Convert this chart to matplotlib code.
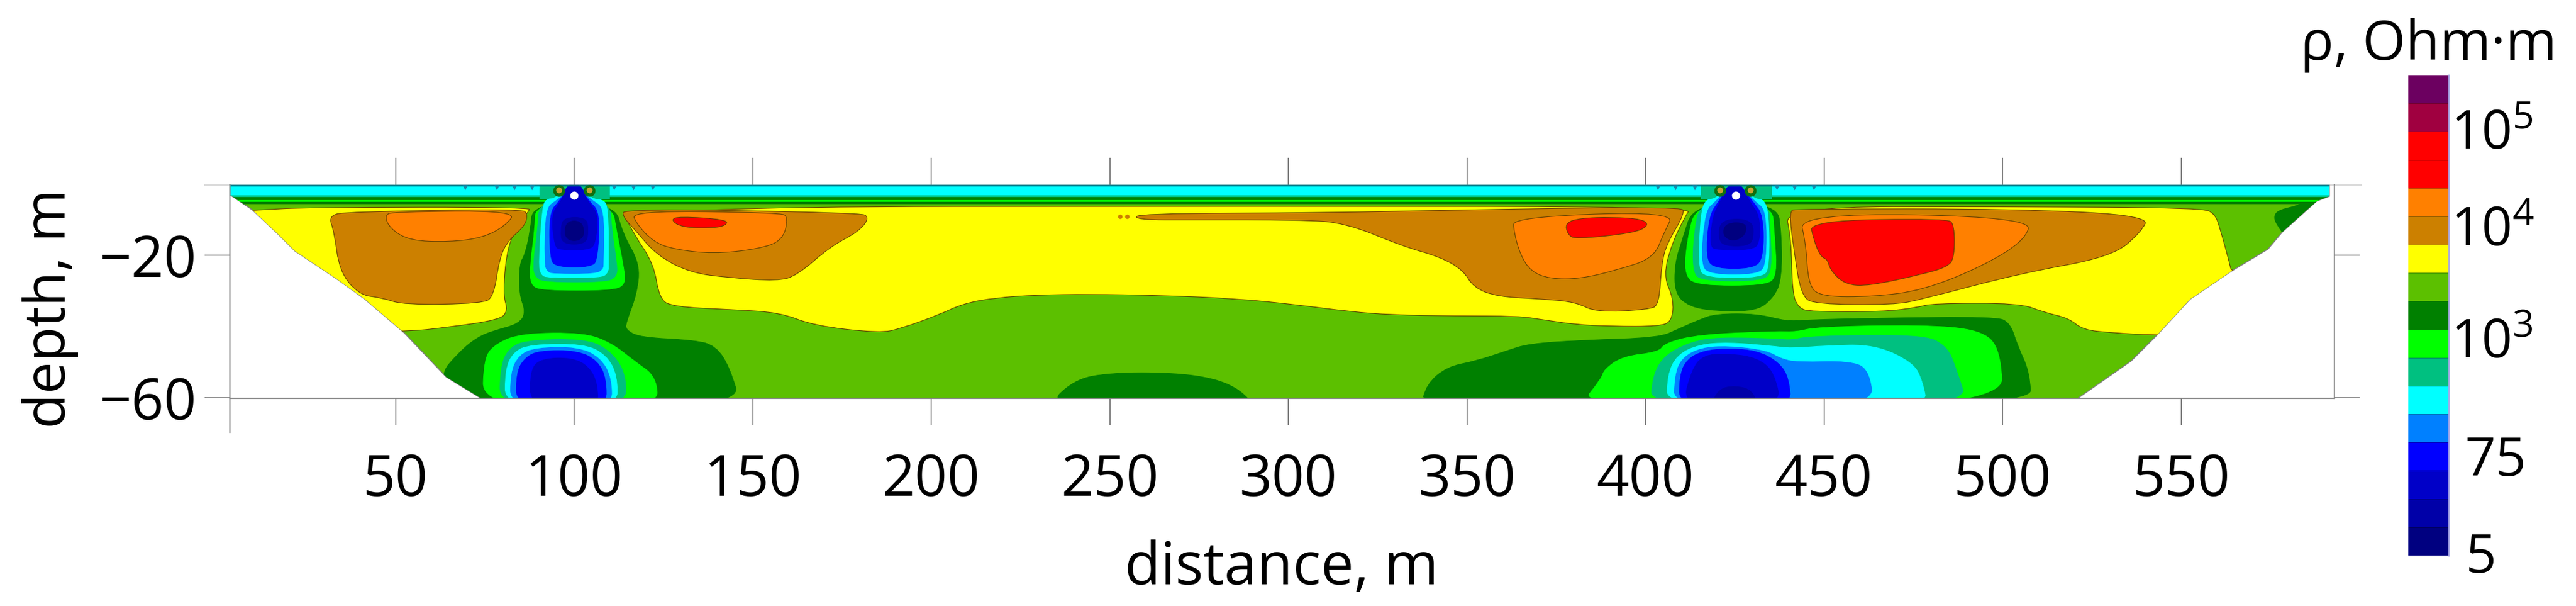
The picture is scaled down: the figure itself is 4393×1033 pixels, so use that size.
import numpy as np
import matplotlib
matplotlib.use("Agg")
import matplotlib.pyplot as plt
from matplotlib.colors import ListedColormap
from matplotlib.patches import PathPatch, Polygon
from matplotlib.path import Path

plt.rcParams['font.family'] = ['Open Sans', 'DejaVu Sans']
plt.rcParams['mathtext.fontset'] = 'custom'
plt.rcParams['mathtext.rm'] = 'Open Sans'

# colour scale, bottom to top of the bar
LEVEL_COLORS = ['#000080', '#0000a8', '#0000c8', '#0000ff', '#0080ff', '#00ffff',
                '#00c080', '#00ff00', '#008000', '#5cc000', '#ffff00', '#cc8000',
                '#ff8000', '#ff0000', '#ff0000', '#a00040', '#6c0060']
CBAR_TICKS = [-0.1, 3.32, 7.49, 11.45, 14.88]
CBAR_LABELS = ['5', '75', r'$\mathregular{10^{3}}$', r'$\mathregular{10^{4}}$', r'$\mathregular{10^{5}}$']
X_TICKS = [50, 100, 150, 200, 250, 300, 350, 400, 450, 500, 550]
Y_TICKS = [-20, -60]
Y_LABELS = ['\u221220', '\u221260']

# section outline (distance, depth)
domain = [(3.8, -0.4), (591.5, -0.4), (591.5, -3.6), (588, -4.9), (578.4, -13.5), (574.3, -18.4),
          (564, -24.6), (552.5, -32.4), (543, -42.7), (536, -49.7), (521, -60.2), (74, -60.2),
          (64.2, -54.2), (52.4, -41.8), (41.4, -32.4), (33.5, -26.7), (21.8, -18.9), (16.9, -14),
          (9.9, -7.4), (3.8, -3.3)]

# yellow
yellow_left = [(0, -42), (0, -8), (12.6, -7.4), (25, -6.7), (88, -6.6), (87, -8), (81.5, -16), (80, -30.8),
               (81.5, -35.7), (79, -38.2), (65, -40.2), (52.4, -41.6)]
yellow_center = [(112.9, -6.5), (116.8, -14.3), (122.3, -22.5), (123.9, -32.4), (127.8, -34.5), (143.5, -35.3),
                 (157.7, -36.1), (167, -39.8), (185.6, -41.9), (191.5, -40.6), (201.8, -36.9), (209, -33.6),
                 (217.9, -32), (229.6, -31.2), (244.2, -31), (263.2, -31.3), (285.2, -32.2), (302.8, -34),
                 (317.4, -35.9), (329, -36.8), (346.7, -37.1), (364.3, -37.1), (371.6, -38.2), (380.4, -39.5),
                 (390.6, -40), (403.8, -40), (407.4, -38.6), (407.9, -32.4), (405, -25.8), (407.4, -16.8),
                 (411, -9.4), (412.9, -6.5), (300, -6.4)]
yellow_right = [(438.8, -6.5), (440.8, -15.2), (441.1, -30.8), (442.9, -34.9), (446.3, -35.9), (466.7, -35.9),
                (476.2, -34.7), (480.2, -33.6), (504.8, -33.5), (511.6, -36.1), (518.5, -37.7), (522.5, -41),
                (530.7, -41.8), (542.3, -42.5), (560, -42.5), (568, -24.6), (564, -24.6), (563.6, -22.5),
                (560.9, -12.7), (559.5, -8.6), (556, -6.8), (500, -6.5)]

# dark green
dark_col1 = [(88.5, -5.5), (87.7, -13.5), (86.2, -20), (84.7, -22.5), (84.6, -31), (86.5, -36), (84.6, -39.3),
             (77.6, -41.2), (73, -43), (68, -47), (62, -54), (68, -63), (147, -63), (143.5, -51.3),
             (139.6, -45.5), (134, -43.9), (118.4, -43.1), (114.5, -41), (114.5, -39), (117.6, -30.8),
             (118.4, -22.5), (113.7, -14.3), (111.3, -5.5)]
dark_col2 = [(413.6, -5.5), (410.2, -16), (408.2, -22.5), (408.2, -30.8), (412.3, -34.5), (419.7, -35.7),
             (431.3, -35.7), (436.1, -31.6), (438.1, -26.7), (438.1, -14.3), (436.8, -5.5)]
dark_lower2 = [(337, -63), (338.7, -56.2), (344.5, -51.3), (352.6, -49.7), (361.3, -46.8), (367.2, -44.9),
               (381.8, -43.9), (403.8, -43.2), (409.5, -40.6), (415, -38.2), (419.7, -36.5), (431.3, -36.5),
               (439.5, -38.6), (444.9, -38.2), (464, -37.7), (498, -37.3), (502.1, -39), (504.2, -45.5),
               (507.6, -52.9), (508, -63)]
dark_blob = [(232, -63), (239.8, -55), (250.1, -53), (267.6, -53), (279.4, -54.6), (286.7, -57.9), (291, -63)]
dark_corner = [(576, -8.9), (577.5, -7.4), (583, -6.1), (584, -5), (592, -5), (580, -16), (576.4, -11)]

# brown, orange, red
brown_left = [(31.2, -9), (36.7, -7.9), (85.4, -7.1), (87, -8.6), (86.2, -11.9), (81.5, -16), (79.1, -20.9),
              (77.5, -31.6), (74.4, -33.6), (52.4, -34), (46.1, -32), (39.8, -31.2), (34.3, -24.6), (32.8, -13.5)]
orange_left = [(46.9, -9), (49.3, -7.9), (84, -7.6), (80.7, -11.9), (74.4, -15.2), (65, -16.4), (54, -16), (48.5, -12.7)]
brown_r1 = [(113.7, -7), (179.7, -8.2), (182.8, -9.4), (179.7, -13.5), (171.8, -17.6), (162.4, -25.8), (156.9, -27.3),
            (143.5, -26.4), (132.5, -25), (123.1, -20.1), (116.8, -12.7), (113.7, -9.4)]
orange_r1 = [(116, -7.6), (157.7, -8.2), (160, -9.4), (158.4, -16), (151.4, -18.4), (138.8, -19.7), (127.8, -18.4),
             (122.3, -16.4), (117.6, -11.5)]
red_r1 = [(127, -10.2), (129.4, -9.2), (142.7, -10.1), (142.7, -11.7), (138.8, -12.5), (130.2, -12.3)]
brown_mid = [(257.4, -8.4), (310.1, -8.2), (346.7, -7.4), (409.7, -6.5), (411.1, -8.2), (406, -16.8), (404.5, -22.5),
             (403.8, -34), (400.9, -35.3), (386.2, -36.1), (380.4, -33.2), (371.6, -32.4), (358.4, -31.7),
             (351.8, -29.1), (348.9, -24.2), (342.3, -20.5), (332, -17.6), (316, -11), (302.8, -10.2),
             (273.5, -10.2), (257.4, -10.2)]
orange_mid = [(363.1, -9.4), (408.2, -7.8), (405.3, -13.5), (402.3, -20.9), (392.1, -24.2), (381.8, -26.7),
              (373.1, -26.7), (367.9, -24.6), (365, -20.1), (363.1, -13.5)]
red_mid = [(377.5, -11), (381.8, -9.7), (390.6, -9.4), (399.4, -10), (400.9, -11.9), (396.5, -13.9), (380.4, -15.6),
           (378.2, -14.3)]
brown_r2 = [(440.2, -7.8), (442.2, -7.1), (504.8, -7.1), (540.9, -9), (538.9, -13.5), (530.7, -20.5), (504.8, -25.2),
            (477.6, -32.4), (469.4, -34), (447.7, -33.8), (443.6, -31.6), (441.5, -18.4)]
orange_r2 = [(442.9, -8.2), (508.2, -9.4), (506.2, -16), (493.9, -23.4), (477.6, -29.9), (463.9, -31.7), (449, -31.7),
             (445.6, -28.3), (444.9, -16.8)]
red_r2 = [(446, -10.4), (484.4, -9.8), (486.5, -11.5), (486.5, -20.9), (484.4, -23.4), (477.6, -25.4), (462.6, -28.7),
          (455.8, -28.3), (451.7, -24.2), (451, -21.3), (449, -20.5), (447, -15.6)]

# upper conductor at 100 m
up1_lime = [(89.2, -5.5), (89, -13), (87.7, -22.5), (87.7, -28.3), (90.9, -29.9), (110.5, -29.9), (114.5, -28.3),
            (113.7, -22.5), (112, -14), (110.5, -5.5)]
up1_teal = [(90.3, -4.4), (89.8, -13), (88.5, -22.5), (89, -26), (91.5, -27.6), (109, -27.6), (112, -26), (112, -22.5),
            (110.5, -13), (110, -4.4)]
up1_cyan = [(94.5, -4.3), (92.3, -4.3), (91.1, -6.5), (90.1, -22.5), (90.7, -25.5), (92.5, -26.4), (107.5, -26.4),
            (109.5, -25), (109.7, -22.5), (109.5, -6.5), (108, -4.5), (105, -4.4), (101.6, -1), (98.4, -1)]
up1_azure = [(95, -4.8), (92, -7), (91.7, -22.5), (92.5, -24.6), (94, -25.2), (106, -25.2), (108, -24), (108.2, -22.5),
             (108.4, -7), (105.2, -4.8), (100, -1)]
up1_blue = [(96, -4.8), (93.1, -8), (93.2, -21), (95, -23.4), (105, -23.4), (106.6, -21), (107.2, -8), (104, -4.8),
            (101.6, -1), (98.4, -1)]
up1_deep = [(96.5, -4.9), (93.6, -8.5), (94.5, -17.5), (96, -18.6), (104, -18.6), (106, -17), (106.8, -8.5),
            (103.5, -4.8), (102, -0.2), (98, -0.2)]
up1_deeper = [(97, -9.5), (96.2, -13), (96.6, -17), (103.4, -17), (104, -13), (103.4, -9.5)]
up1_navy = [(98, -10.5), (97.2, -14), (98.5, -16), (101.5, -16), (103, -14), (102, -10.5)]

# lower conductor at 100 m
low1_lime = [(74.4, -63), (74.7, -48.8), (78.3, -44.7), (85.4, -42), (102.7, -41.8), (110.5, -44.7), (116.8, -49.7),
             (123.1, -54.2), (123.4, -63)]
low1_teal = [(79.1, -63), (79.4, -51.3), (81.5, -46.4), (86.2, -43.9), (102.7, -43.5), (109.7, -46.4), (114.5, -53),
             (114.5, -63)]
low1_cyan = [(80.7, -63), (80.7, -52.1), (83, -47.2), (87.7, -45.1), (102.7, -44.9), (109, -48), (112.1, -53.8),
             (112.1, -63)]
low1_azure = [(82.2, -63), (82.2, -53), (84.6, -48), (89.3, -46), (101, -45.8), (107.4, -48.8), (110.5, -54.6),
              (110.5, -63)]
low1_blue = [(83.8, -63), (83.8, -52.9), (86.2, -48.8), (90.1, -46.8), (101.1, -46.8), (106.6, -49.7), (109, -54.6),
             (109, -63)]
low1_deep = [(87.7, -63), (87.7, -52.1), (90.9, -49), (99.5, -48.8), (104.2, -51.3), (106.6, -56.2), (106.6, -63)]

# upper conductor at 425 m
up2_lime = [(414.3, -5.5), (411.6, -16), (410.9, -25.8), (414.7, -28.5), (433.8, -28.5), (436.8, -25.8), (436.1, -14.3),
            (435.4, -5.5)]
up2_teal = [(415.5, -4.5), (413.5, -14.3), (413.2, -24.2), (415.3, -27.3), (433.1, -27.3), (435.4, -24.2), (434.9, -13),
            (434.5, -4.5)]
up2_cyan = [(419.5, -4.4), (417, -4.4), (415.5, -8), (414.8, -23), (416.5, -26.4), (433, -26.4), (434.7, -23),
            (434.5, -8), (433, -4.4), (430.5, -4.4), (427, -1), (423, -1)]
up2_azure = [(419.8, -5), (416.8, -7.5), (415.5, -22.5), (418, -25.4), (431.5, -25.4), (433.8, -22.5), (433.8, -7.5),
             (430.5, -5), (426.8, -1), (423.2, -1)]
up2_blue = [(420.5, -5), (417.8, -9), (416.9, -21), (419.5, -23.8), (430, -23.8), (433, -21), (433, -9), (430, -5),
            (426.8, -1), (423.2, -1)]
up2_deep = [(421, -5), (418.8, -9), (418, -17.6), (420, -18.6), (429.6, -18.6), (432, -16.8), (432, -9), (429, -5),
            (427, -0.2), (423, -0.2)]
up2_deeper = [(421, -10), (420.4, -15.6), (422.2, -17.5), (428.5, -17.5), (430.3, -15.6), (430, -10)]
up2_navy = [(422.5, -11), (421.5, -14.5), (424.5, -16.3), (428, -14.5), (428.3, -11)]

# lower conductor at 425 m
low2_lime = [(381, -63), (387.7, -54.6), (388.4, -52.1), (393.6, -48.4), (403.8, -47.2), (405.4, -44.7), (415, -42.3),
             (436.8, -41.4), (442.2, -41.6), (447.7, -40.2), (477.6, -39.6), (493.9, -41), (499.4, -46.4), (500.1, -63)]
low2_teal = [(401.4, -63), (402, -53.8), (405.4, -48), (412.9, -44.3), (420.4, -43.1), (436.8, -43.5), (440.8, -43.9),
             (446.3, -42.7), (477.6, -42.3), (484.4, -45.5), (487.1, -52.1), (490.5, -63)]
low2_cyan = [(406.1, -63), (406.1, -53.8), (408.8, -48), (415, -45.1), (423.1, -44.5), (435.4, -45.5), (440.8, -46.2),
             (450.4, -45.4), (464, -45.1), (474.9, -50.1), (477.6, -55.4), (479, -63)]
low2_azure = [(408, -63), (408.2, -53.8), (410.2, -48.8), (415.6, -46), (423.1, -45.5), (434, -46.8), (438.1, -49.2),
              (442.9, -50.1), (457.2, -49.7), (462.6, -52.1), (464, -63)]
low2_blue = [(409.5, -63), (409.5, -53.8), (411.6, -49.2), (416.3, -46.8), (423.1, -46.2), (431.3, -46.8), (437.4, -50.1),
             (440.2, -54.6), (440.8, -63)]
low2_deep = [(410.2, -63), (412.9, -52.1), (416.3, -48), (423.1, -47.6), (431.3, -48.8), (436.1, -52.9), (438.1, -63)]
low2_core = [(418, -63), (420.4, -57.5), (425.2, -56.6), (430, -57.9), (431.6, -63)]

# (colour level, polygon), painted in this order
regions = [(10, yellow_left), (10, yellow_center), (10, yellow_right),
           (8, dark_col1), (8, dark_lower2), (8, dark_blob), (8, dark_corner), (8, dark_col2),
           (11, brown_left), (12, orange_left), (11, brown_r1), (12, orange_r1), (13, red_r1),
           (11, brown_mid), (12, orange_mid), (13, red_mid), (11, brown_r2), (12, orange_r2), (13, red_r2),
           (7, low1_lime), (6, low1_teal), (5, low1_cyan), (4, low1_azure), (3, low1_blue), (2, low1_deep),
           (7, low2_lime), (6, low2_teal), (5, low2_cyan), (4, low2_azure), (3, low2_blue), (2, low2_deep), (1, low2_core)]
upper_regions = [(7, up1_lime), (6, up1_teal), (5, up1_cyan), (4, up1_azure), (3, up1_blue), (2, up1_deep), (1, up1_deeper), (0, up1_navy),
                 (7, up2_lime), (6, up2_teal), (5, up2_cyan), (4, up2_azure), (3, up2_blue), (2, up2_deep), (1, up2_deeper), (0, up2_navy)]

# near-surface layers (level, top depth, bottom depth)
surface_layers = [(5, -0.4, -3.3), (6, -3.3, -3.9), (8, -3.9, -5.8), (7, -4.7, -5.1)]
teal_blocks = [(90.3, 110), (415.5, 435.5)]
anomaly_dots = [100, 425.2]
warm_spots = [95.7, 104.3, 420.9, 429.4]
surface_bumps = [69.5, 78.3, 83.3, 88.2, 111.2, 116.6, 122, 403.4, 408.4, 413.8, 436.8, 441.7, 447.1]
brown_tip = [252.8, 254.8]


def smooth_path(points):
    # quadratic curve using the read points as control points
    pts = np.array(points)
    next_pts = np.roll(pts, -1, axis=0)
    mids = (pts + next_pts) / 2
    verts = [mids[-1]]
    codes = [Path.MOVETO]
    for p, m in zip(pts, mids):
        verts += [p, m]
        codes += [Path.CURVE3, Path.CURVE3]
    return Path(np.array(verts), codes)


fig = plt.figure(figsize=(43.93, 10.33), dpi=100)
W, H = 4393, 1033
ax = fig.add_axes([392 / W, 1 - 679 / H, 3589 / W, 364 / H])
ax.set_xlim(3.6, 592.9)
ax.set_ylim(-60.16, -0.37)

clip = Polygon(domain, closed=True, transform=ax.transData)
ax.add_patch(Polygon(domain, closed=True, fc=LEVEL_COLORS[9], ec='#808080', lw=1.2, zorder=1))


def add_region(level, points, z):
    warm = level >= 10
    p = PathPatch(smooth_path(points), fc=LEVEL_COLORS[level], ec='#604000' if warm else LEVEL_COLORS[level],
                  lw=0.8, zorder=z)
    ax.add_patch(p)
    p.set_clip_path(clip)


for level, pts in regions:
    add_region(level, pts, 2)

for level, top, bottom in surface_layers:
    b = ax.fill_between([0, 600], top, bottom, color=LEVEL_COLORS[level], lw=0, zorder=3)
    b.set_clip_path(clip)
for left, right in teal_blocks:
    ax.fill_between([left, right], -0.4, -4.5, color=LEVEL_COLORS[6], lw=0, zorder=3)

for level, pts in upper_regions:
    add_region(level, pts, 4)

ax.hlines(-0.55, domain[0][0], domain[1][0], color='#007080', lw=1.8, zorder=5)
ax.scatter(surface_bumps, [-1.0] * len(surface_bumps), s=50, marker='v', color='#1a8aa8', lw=0, zorder=5)
ax.scatter(warm_spots, [-2.0] * len(warm_spots), s=207, color='#107010', lw=0, zorder=5)
ax.scatter(warm_spots, [-1.8] * len(warm_spots), s=52, color='#c8a030', lw=0, zorder=6)
ax.scatter(anomaly_dots, [-3.3] * len(anomaly_dots), s=100, color='white', lw=0, zorder=7)
ax.scatter(brown_tip, [-9.3] * len(brown_tip), s=30, color=LEVEL_COLORS[11], lw=0, zorder=3)

# frame and long ticks
for side in ['left', 'right', 'bottom']:
    ax.spines[side].set_color('#808080')
    ax.spines[side].set_linewidth(1.6)
    ax.spines[side].set_zorder(8)
ax.spines['top'].set_visible(False)
ax.axhline(-0.37, xmin=-43 / 3589, xmax=1 + 45 / 3589, color='#dcdcdc', lw=2.4, clip_on=False, zorder=0)
ax.axvline(3.6, ymin=-58 / 364, ymax=0, color='#808080', lw=1.6, clip_on=False)

ax.set_xticks(X_TICKS)
ax.set_yticks(Y_TICKS)
ax.set_yticklabels(Y_LABELS)
ax.tick_params(axis='x', top=True, length=33, width=1.4, color='#808080', labelsize=70, pad=33)
ax.tick_params(axis='y', right=True, length=31, width=1.4, color='#808080', labelsize=70, pad=10)
ax.set_xlabel('distance, m', fontsize=72)
ax.xaxis.set_label_coords(0.4996, -0.662)
ax.set_ylabel('depth, m', fontsize=70)
ax.yaxis.set_label_coords(-0.0719, 0.42)

# colour bar
cax = fig.add_axes([4107 / W, 1 - 947 / H, 69 / W, 819 / H])
cax.pcolormesh([0, 1], np.arange(len(LEVEL_COLORS) + 1), np.arange(len(LEVEL_COLORS)).reshape(-1, 1),
               cmap=ListedColormap(LEVEL_COLORS), shading='flat')
cax.hlines(np.arange(1, len(LEVEL_COLORS)), 0, 1, color='#000000', lw=0.6, alpha=0.35)
cax.set_xticks([])
cax.set_yticks([])
for s in cax.spines.values():
    s.set_visible(False)
cax.spines['right'].set_visible(True)
cax.spines['right'].set_color('#a8a8e8')
cax.spines['right'].set_linewidth(1.8)
for val, lab in zip(CBAR_TICKS, CBAR_LABELS):
    offset = 1.40 if len(lab) < 3 else 1.05
    cax.text(offset, val, lab, transform=cax.get_yaxis_transform(), fontsize=66, va='center', ha='left')

fig.text(4142 / W, 1 - 102 / H, '\u03c1, Ohm\u00b7m', fontsize=68, ha='center', va='baseline')

fig.savefig('out.png', dpi=100)
